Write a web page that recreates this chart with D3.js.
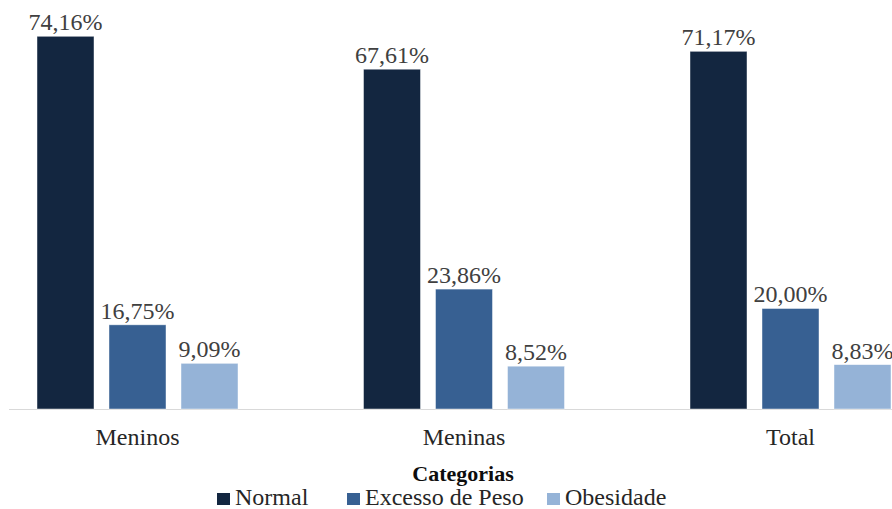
<!DOCTYPE html>
<html>
<head>
<meta charset="utf-8">
<script src="https://cdn.jsdelivr.net/npm/d3@7"></script>
<style>
  body { margin: 0; background: #fff; }
</style>
</head>
<body>
<div id="chart"></div>
<script>
// Data
var categories = ["Meninos", "Meninas", "Total"];
var seriesNames = ["Normal", "Excesso de Peso", "Obesidade"];
var normal = [74.16, 67.61, 71.17];
var excesso = [16.75, 23.86, 20.0];
var obesidade = [9.09, 8.52, 8.83];
var seriesColors = ["#132640", "#376092", "#95b3d7"];

var svgWidth = 892;
var svgHeight = 509;
var fontFamily = "'Liberation Serif', 'Times New Roman', serif";

var svg = d3
  .select("#chart")
  .append("svg")
  .attr("width", svgWidth)
  .attr("height", svgHeight);

var baseY = 409;

// group scale (plot area partly clipped on the left/right like the original)
var x0 = d3
  .scaleBand()
  .domain(categories)
  .range([-25.75, 953.75])
  .paddingInner(0)
  .paddingOuter(0);

var x1 = d3
  .scaleBand()
  .domain(seriesNames)
  .range([x0.bandwidth() / 2 - 100.5, x0.bandwidth() / 2 + 100.5])
  .paddingInner(15 / 72)
  .paddingOuter(0);

var y = d3.scaleLinear().domain([0, 80]).range([baseY, baseY - 5.026 * 80]);

var rows = categories.map(function (c, i) {
  return {
    cat: c,
    values: [normal[i], excesso[i], obesidade[i]].map(function (v, j) {
      return { name: seriesNames[j], value: v, color: seriesColors[j] };
    }),
  };
});

// axis line
svg
  .append("line")
  .attr("x1", 9)
  .attr("x2", svgWidth)
  .attr("y1", baseY + 0.5)
  .attr("y2", baseY + 0.5)
  .attr("stroke", "#d9d9d9")
  .attr("stroke-width", 1);

var groups = svg
  .selectAll(".grp")
  .data(rows)
  .enter()
  .append("g")
  .attr("class", "grp")
  .attr("transform", (d) => `translate(${x0(d.cat)},0)`);

groups
  .selectAll("rect")
  .data((d) => d.values)
  .enter()
  .append("rect")
  .attr("x", (d) => x1(d.name))
  .attr("y", (d) => y(d.value))
  .attr("width", x1.bandwidth())
  .attr("height", (d) => baseY - y(d.value))
  .attr("fill", (d) => d.color)
  .attr("stroke", "#ffffff")
  .attr("stroke-opacity", 0.6)
  .attr("stroke-width", 0.75);

groups
  .selectAll(".val")
  .data((d) => d.values)
  .enter()
  .append("text")
  .attr("class", "val")
  .attr("x", (d) => x1(d.name) + x1.bandwidth() / 2)
  .attr("y", (d) => y(d.value) - 6)
  .attr("text-anchor", "middle")
  .style("font-family", fontFamily)
  .style("font-size", "24px")
  .attr("fill", "#404040")
  .text((d) => d.value.toFixed(2).replace(".", ",") + "%");

// category labels
svg
  .selectAll(".cat")
  .data(categories)
  .enter()
  .append("text")
  .attr("class", "cat")
  .attr("x", (d) => x0(d) + x0.bandwidth() / 2)
  .attr("y", 445)
  .attr("text-anchor", "middle")
  .style("font-family", fontFamily)
  .style("font-size", "24px")
  .attr("fill", "#262626")
  .text((d) => d);

// legend title
svg
  .append("text")
  .attr("x", 463)
  .attr("y", 481)
  .attr("text-anchor", "middle")
  .style("font-family", fontFamily)
  .style("font-size", "22px")
  .style("font-weight", "bold")
  .attr("fill", "#0d0d0d")
  .text("Categorias");

// legend items
var legendX = [217, 347, 547];
var legend = svg
  .selectAll(".leg")
  .data(seriesNames)
  .enter()
  .append("g")
  .attr("class", "leg")
  .attr("transform", (d, i) => `translate(${legendX[i]},0)`);

legend
  .append("rect")
  .attr("x", 0)
  .attr("y", 493)
  .attr("width", 13)
  .attr("height", 12)
  .attr("fill", (d, i) => seriesColors[i]);

legend
  .append("text")
  .attr("x", 18)
  .attr("y", 505)
  .style("font-family", fontFamily)
  .style("font-size", "24px")
  .attr("fill", "#262626")
  .text((d) => d);
</script>
</body>
</html>
